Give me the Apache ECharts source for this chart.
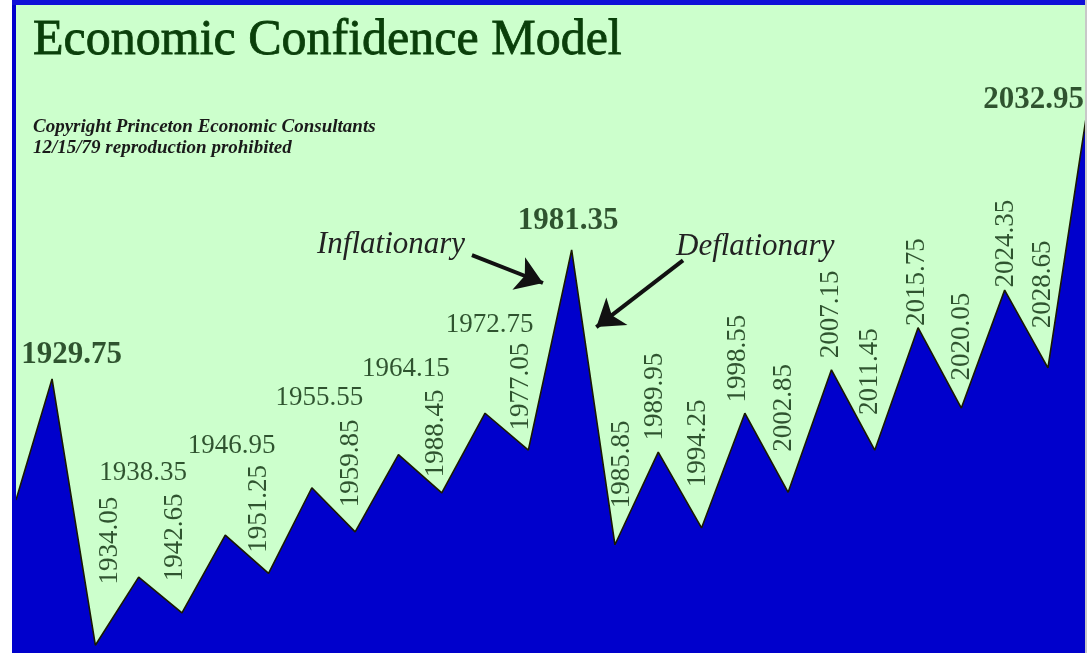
<!DOCTYPE html>
<html>
<head>
<meta charset="utf-8">
<title>Economic Confidence Model</title>
<script src="https://cdn.jsdelivr.net/npm/echarts@6/dist/echarts.min.js"></script>
<style>
html, body { margin: 0; padding: 0; background: #fff; }
#ecm { width: 1090px; height: 653px; }
</style>
</head>
<body>
<div id="ecm"></div>
<script>
// turning points of the model: x = date, y = confidence level (0..100)
const years = [1926.17, 1929.75, 1934.05, 1938.35, 1942.65, 1946.95, 1951.25, 1955.55, 1959.85,
  1964.15, 1968.45, 1972.75, 1977.05, 1981.35, 1985.65, 1989.95, 1994.25, 1998.55, 2002.85,
  2007.15, 2011.45, 2015.75, 2020.05, 2024.35, 2028.65, 2032.95];
const levels = [23.6, 42.3, 1.2, 11.7, 6.2, 18.2, 12.3, 25.5, 18.7,
  30.6, 24.7, 37.0, 31.3, 62.2, 16.7, 31.0, 19.3, 37.0, 24.8,
  43.7, 31.3, 50.2, 37.8, 56.0, 44.0, 87.8];
// printed date of each turning point (first point is just the left edge, no label)
const labelTexts = ['', '1929.75', '1934.05', '1938.35', '1942.65', '1946.95', '1951.25', '1955.55', '1959.85',
  '1964.15', '1988.45', '1972.75', '1977.05', '1981.35', '1985.85', '1989.95', '1994.25', '1998.55', '2002.85',
  '2007.15', '2011.45', '2015.75', '2020.05', '2024.35', '2028.65', '2032.95'];
const majorTops = ['1929.75', '1981.35', '2032.95'];

// arrows: [fromYear, fromLevel, toYear, toLevel]
const arrows = [
  [1971.45, 61.4, 1978.5, 57.1],
  [1992.41, 60.6, 1983.8, 50.3]
];

// where each label sits, relative to its turning point: [dx, dy, rotate]
const labelLayout = [null,
  [20, -23, 0], [15, -104, 90], [5, -104, 0], [-7, -75, 90], [7, -89, 0], [-9, -64, 90],
  [8, -89, 0], [-4, -68, 90], [8, -85, 0], [-5, -59, 90], [5, -88, 0], [-7, -63, 90],
  [-3, -28, 0], [7, -80, 90], [-3, -55, 90], [-3, -84, 90], [-6, -54, 90], [-4, -84, 90],
  [0, -55, 90], [-4, -78, 90], [-1, -45, 90], [1, -71, 90], [2, -46, 90], [-5, -83, 90],
  [-57, 16, 0]
];

const serif = '"Liberation Serif", "Times New Roman", serif';
const textGreen = '#082808';

const chart = echarts.init(document.getElementById('ecm'));

const linePoints = years.map((y, i) => [y, levels[i]]);
const labelPoints = [];
years.forEach((y, i) => {
  if (!labelTexts[i]) return;
  const lay = labelLayout[i];
  const big = majorTops.indexOf(labelTexts[i]) >= 0;
  labelPoints.push({
    value: [y, levels[i]],
    label: {
      show: true,
      formatter: labelTexts[i],
      position: [lay[0], lay[1]],
      align: 'center',
      verticalAlign: 'middle',
      rotate: lay[2],
      fontSize: big ? 31 : 27,
      fontWeight: big ? 'bold' : 'normal'
    }
  });
});

const option = {
  backgroundColor: '#ffffff',
  animation: false,
  title: [
    {
      text: 'Economic Confidence Model',
      left: 33,
      top: 16,
      padding: 0,
      textStyle: { fontFamily: serif, fontSize: 50, fontWeight: 'normal', color: '#0a3f0a',
        textBorderColor: '#0a3f0a', textBorderWidth: 0.8 }
    },
    {
      text: 'Copyright Princeton Economic Consultants\n12/15/79 reproduction prohibited',
      left: 33,
      top: 117,
      padding: 0,
      textStyle: { fontFamily: serif, fontSize: 19, fontStyle: 'italic', fontWeight: 'bold',
        color: '#1a1a1a', lineHeight: 21 }
    }
  ],
  grid: {
    left: 16, right: 5, top: 5, bottom: 0,
    show: true,
    backgroundColor: '#ccffcc',
    borderWidth: 0
  },
  xAxis: { type: 'value', min: 1926.17, max: 2032.33, show: false },
  yAxis: { type: 'value', min: 0, max: 100, show: false },
  graphic: [
    { type: 'rect', shape: { x: 12, y: 0, width: 4, height: 653 }, style: { fill: '#0000cc' }, z: 10 },
    { type: 'rect', shape: { x: 12, y: 0, width: 1075, height: 5 }, style: { fill: '#1010d8' }, z: 10 },
    { type: 'rect', shape: { x: 1085, y: 0, width: 2, height: 653 }, style: { fill: '#c8c8c8' }, z: 10 },
    {
      type: 'text', x: 317, y: 229, z: 10,
      style: { text: 'Inflationary', font: 'italic 31px ' + serif, fill: '#222' }
    },
    {
      type: 'text', x: 676, y: 231, z: 10,
      style: { text: 'Deflationary', font: 'italic 31px ' + serif, fill: '#222' }
    }
  ],
  series: [
    {
      type: 'line',
      data: linePoints,
      symbol: 'none',
      lineStyle: { color: '#1a1a00', width: 1.6 },
      areaStyle: { color: '#0000cc', opacity: 1 },
      silent: true,
      markLine: {
        silent: true,
        symbol: ['none', 'arrow'],
        symbolSize: 26,
        label: { show: false },
        lineStyle: { color: '#111', width: 4, type: 'solid', opacity: 1 },
        data: arrows.map(a => [{ coord: [a[0], a[1]] }, { coord: [a[2], a[3]] }])
      }
    },
    {
      type: 'scatter',
      data: labelPoints,
      symbolSize: 1,
      itemStyle: { color: 'transparent' },
      clip: false,
      silent: true,
      label: { fontFamily: serif, color: textGreen }
    }
  ]
};

chart.setOption(option);
</script>
</body>
</html>
